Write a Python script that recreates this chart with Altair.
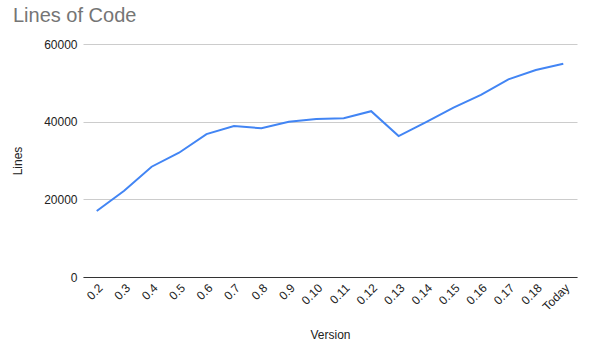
import altair as alt
import pandas as pd

versions = ["0.2", "0.3", "0.4", "0.5", "0.6", "0.7", "0.8", "0.9", "0.10",
            "0.11", "0.12", "0.13", "0.14", "0.15", "0.16", "0.17", "0.18", "Today"]
lines = [17000, 22200, 28400, 32000, 36800, 38900, 38300, 40000, 40700,
         40900, 42700, 36300, 39900, 43600, 46900, 50900, 53300, 54900]

df = pd.DataFrame({"Version": versions, "Lines": lines})

FONT = "Arial"

chart = (
    alt.Chart(df)
    .mark_line(color="#4285F4", strokeWidth=2)
    .encode(
        x=alt.X(
            "Version:N",
            sort=versions,
            scale=alt.Scale(type="point", padding=0.5),
            axis=alt.Axis(
                title="Version",
                labelAngle=-45,
                labelFontSize=12,
                labelColor="#222222",
                labelPadding=5,
                ticks=False,
                domainColor="#333333",
                titleFontSize=12,
                titleFontWeight="normal",
                titleColor="#222222",
                titlePadding=17,
                grid=False,
            ),
        ),
        y=alt.Y(
            "Lines:Q",
            scale=alt.Scale(domain=[0, 60000]),
            axis=alt.Axis(
                title="Lines",
                values=[0, 20000, 40000, 60000],
                format="d",
                labelFontSize=12,
                labelColor="#222222",
                labelPadding=6,
                ticks=False,
                domain=False,
                gridColor="#cccccc",
                titleFontSize=12,
                titleFontWeight="normal",
                titleColor="#222222",
                titlePadding=19,
            ),
        ),
    )
    .properties(
        width=494,
        height=233,
        autosize=alt.AutoSizeParams(type="none"),
        padding={"left": 83, "top": 44, "right": 12, "bottom": 72},
        title=alt.TitleParams(
            "Lines of Code",
            anchor="start",
            frame="group",
            dx=-70,
            offset=12,
            fontSize=20,
            fontWeight="normal",
            color="#757575",
            font=FONT,
        ),
    )
    .configure(font=FONT)
    .configure_view(stroke=None)
)

chart.save("out.html", embed_options={"renderer": "svg", "actions": False})
